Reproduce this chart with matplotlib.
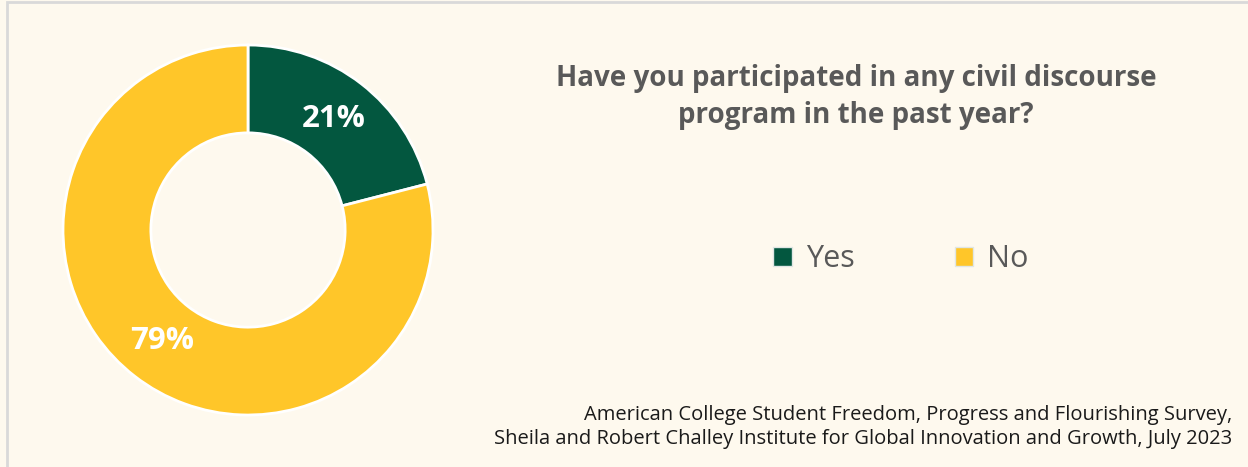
import matplotlib.pyplot as plt
from matplotlib.patches import Patch, Rectangle

categories = ["Yes", "No"]
shares = [21, 79]
colors = ["#03573F", "#FFC629"]
title = "Have you participated in any civil discourse\nprogram in the past year?"
source = ("American College Student Freedom, Progress and Flourishing Survey,\n"
          "Sheila and Robert Challey Institute for Global Innovation and Growth, July 2023")

W, H = 1248, 467
bg = "#FEF9EE"
plt.rcParams["font.family"] = ["Open Sans", "DejaVu Sans"]

fig = plt.figure(figsize=(W / 100, H / 100), dpi=100, facecolor=bg)

# chart frame
fig.patches.append(Rectangle((6.5 / W, -0.01), 1.1, 1 - 1.5 / H + 0.01,
                             transform=fig.transFigure, fill=False,
                             edgecolor="#D9D9D9", linewidth=2))

cx, cy, r = 248, 230, 185
ax = fig.add_axes([(cx - r) / W, 1 - (cy + r) / H, 2 * r / W, 2 * r / H])
ax.set_facecolor("none")
wedges, texts, autotexts = ax.pie(
    shares, colors=colors, startangle=90, counterclock=False, radius=1,
    autopct=lambda p: f"{p:.0f}%", pctdistance=0.76,
    wedgeprops=dict(width=0.475, edgecolor="#FFFFFF", linewidth=2),
    textprops=dict(color="white", fontsize=22.5, fontweight="bold"))
ax.set_xlim(-1, 1)
ax.set_ylim(-1, 1)
ax.set_aspect("equal")
ax.axis("off")

fig.text(856 / W, 1 - 97 / H, title, ha="center", va="center",
         fontsize=20, fontweight="bold", color="#595959", linespacing=1.4)

handles = [Patch(facecolor=c, edgecolor="#E0E6E4", linewidth=1) for c in colors]
fig.legend(handles, categories, loc="center", bbox_to_anchor=(901 / W, 1 - 259 / H),
           ncol=2, frameon=False, fontsize=22, labelcolor="#595959",
           handlelength=0.6, handleheight=0.6, handletextpad=0.45,
           columnspacing=3.3)

fig.text(1232 / W, 1 - 427 / H, source, ha="right", va="center",
         fontsize=14.5, color="#1A1A1A", linespacing=1.3)

fig.savefig("out.png", dpi=100, facecolor=bg)
